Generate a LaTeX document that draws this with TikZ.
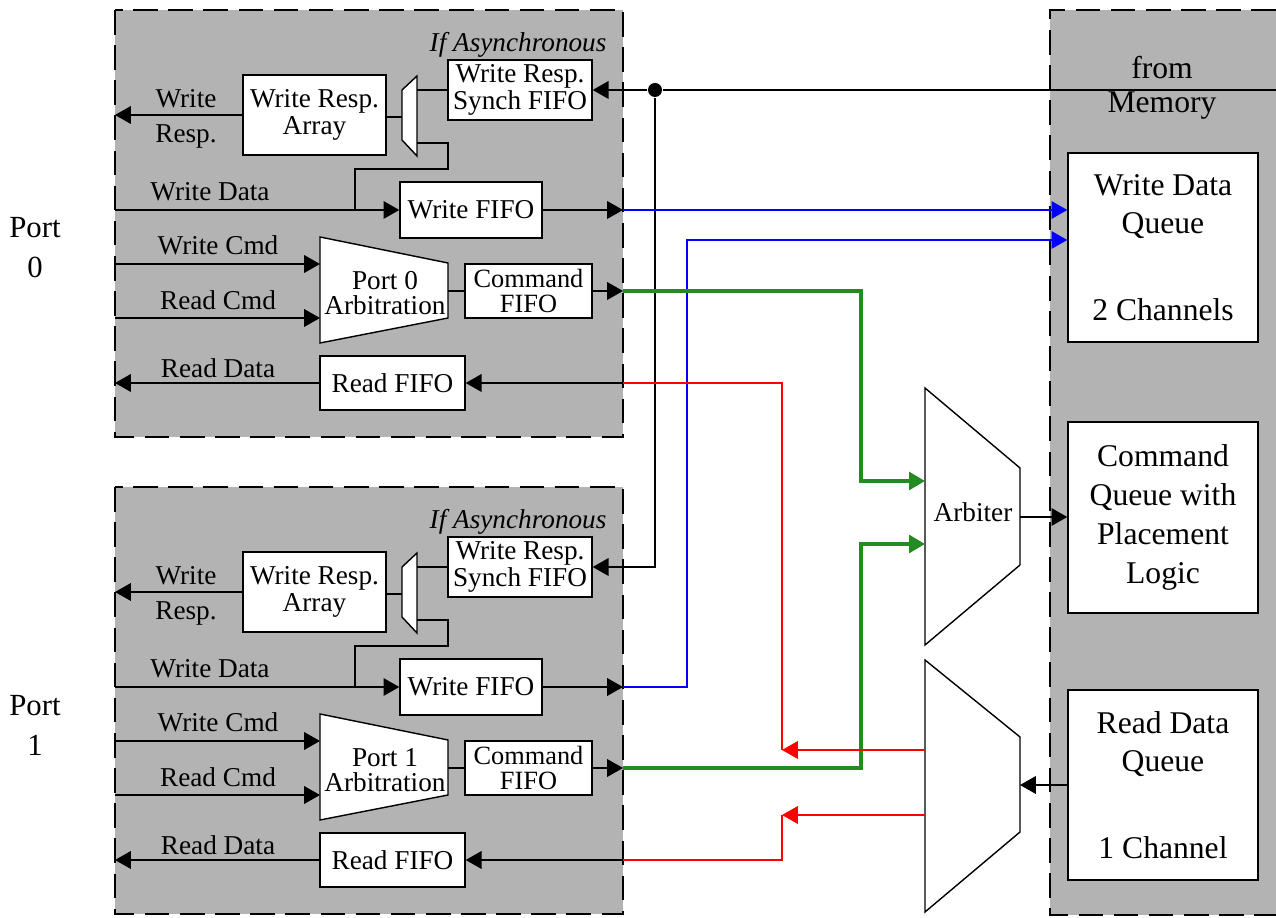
\documentclass[tikz,border=0pt]{standalone}
\usepackage{fontspec}
\setmainfont{Liberation Serif}
\usetikzlibrary{arrows.meta,calc}
\definecolor{busgreen}{RGB}{34,139,34}
\definecolor{blkgray}{RGB}{179,179,179}

\begin{document}
\begin{tikzpicture}[x=0.02cm,y=-0.02cm,line width=0.8pt,
      font=\fontsize{15.5}{14}\selectfont,
      box/.style={draw,fill=white,align=center,inner sep=1pt},
      qbox/.style={draw,fill=white,align=center,minimum width=3.8cm,minimum height=3.8cm,font=\fontsize{18}{21.6}\selectfont},
      blk/.style={fill=blkgray},
      blkedge/.style={dash pattern=on 14pt off 6pt},
      a/.style={-{Triangle[length=9pt,width=10pt]}},
      wbus/.style={a,blue},
      gbus/.style={a,busgreen,line width=2pt},
      rbus/.style={red}]
      \useasboundingbox (0,0) rectangle (1276,918);
      % memory side
      \fill[blk] (1050,10) rectangle (1276,915);
      \draw[blkedge] (1276,10) -- (1050,10) -- (1050,915) -- (1276,915);
      \node[font=\fontsize{18}{21.6}\selectfont] (from) at (1162,68) {from};
      \node[font=\fontsize{18}{21.6}\selectfont] (mem) at (1162,106) {Memory};
      \node[qbox,minimum height=3.78cm] (wdq) at (1163,247.5) {Write Data\\Queue\\[28pt]2 Channels};
      \node[qbox,minimum height=3.82cm] (cq) at (1163,517.5) {Command\\[0.6pt]Queue with\\[0.6pt]Placement\\[0.6pt]Logic};
      \node[qbox] (rdq) at (1163,785) {Read Data\\Queue\\[28pt]1 Channel};
      % the two ports
      \foreach \p/\dy in {0/0,1/477}{
        \begin{scope}[shift={(0,\dy)}]
          \fill[blk] (115,10) rectangle (623,437);
          \draw[blkedge] (115,10) rectangle (623,437);
          \coordinate (edgeL\p) at (115,0);
          \node[font=\fontsize{17.5}{22.8}\selectfont,align=center] (port\p) at (35,248) {Port\\\p};
          \node[anchor=east,font=\fontsize{15.5}{14}\selectfont\itshape] (async\p) at (613,45) {If Asynchronous};
          \node[box,minimum width=2.88cm,minimum height=1.2cm] (wsync\p) at (520,90) {Write Resp.\\Synch FIFO};
          \node[box,minimum width=2.86cm,minimum height=1.6cm,font=\fontsize{15.5}{15}\selectfont] (wra\p) at (314.5,115) {Write Resp.\\Array};
          \node[box,minimum width=2.84cm,minimum height=1.12cm] (wfifo\p) at (471,210) {Write FIFO};
          \node[box,minimum width=2.54cm,minimum height=1.08cm,font=\fontsize{15}{14.5}\selectfont] (cfifo\p) at (528.5,291) {Command\\FIFO};
          \node[box,minimum width=2.9cm,minimum height=1.08cm] (rfifo\p) at (392.5,383) {Read FIFO};
          % write response mux
          \draw[fill=white] (402,90) -- (417,76) -- (417,156) -- (402,140) -- cycle;
          \coordinate (mxa\p) at (417,90);
          \coordinate (mxb\p) at (417,143);
          \coordinate (mxo\p) at (402,117);
          % port arbitration
          \draw[fill=white] (320,237) -- (448,263) -- (448,318) -- (320,343) -- cycle;
          \node[align=center,font=\fontsize{15.5}{14}\selectfont] (parb\p) at (385,293) {Port \p\\Arbitration};
          \coordinate (wcin\p) at (320,264);
          \coordinate (rcin\p) at (320,318);
          \coordinate (paout\p) at (448,291);
          % labels
          \node (lwr\p) at (186,99) {Write};
          \node (lrs\p) at (186,136) {Resp.};
          \node (lwd\p) at (210,192) {Write Data};
          \node (lwc\p) at (218,245) {Write Cmd};
          \node (lrc\p) at (218,300) {Read Cmd};
          \node (lrd\p) at (218,368) {Read Data};
          % connections
          \coordinate (wdin\p) at (115,210);
          \coordinate (wdtap\p) at (355,210);
          \coordinate (wdbend\p) at (448,169);
          \coordinate (wdout\p) at (623,210);
          \coordinate (cmdout\p) at (623,291);
          \coordinate (rdin\p) at (623,383);
          \draw (wsync\p.west) -- (mxa\p);
          \draw (mxo\p) -- (mxo\p -| wra\p.east);
          \draw[a] (wra\p.west) -- (wra\p.west -| edgeL\p);
          \draw[a] (wdin\p) -- (wfifo\p.west);
          \draw (wdtap\p) |- (wdbend\p) |- (mxb\p);
          \draw[a] (wfifo\p.east) -- (wdout\p);
          \draw[a] (wcin\p -| edgeL\p) -- (wcin\p);
          \draw[a] (rcin\p -| edgeL\p) -- (rcin\p);
          \draw (paout\p) -- (cfifo\p.west);
          \draw[a] (cfifo\p.east) -- (cmdout\p);
          \draw[a] (rdin\p) -- (rfifo\p.east);
          \draw[a] (rfifo\p.west) -- (rfifo\p.west -| edgeL\p);
        \end{scope}}
      % write response from memory
      \node[circle,fill,inner sep=0,minimum size=0.28cm] (jn) at (655,90) {};
      \coordinate (memin) at (1276,90);
      \draw (memin) -- (jn);
      \draw[a] (jn) -- (wsync0.east);
      \draw[a] (jn) |- (wsync1.east);
      % arbiter
      \draw[fill=white] (925,388) -- (1020,468) -- (1020,565) -- (925,645) -- cycle;
      \node (arb) at (973,512) {Arbiter};
      \coordinate (arbin0) at (925,481);
      \coordinate (arbin1) at (925,544);
      \coordinate (arbout) at (1020,517);
      \draw[a] (arbout) -- (arbout -| cq.west);
      % read data mux
      \draw[fill=white] (925,660) -- (1020,737) -- (1020,832) -- (925,912) -- cycle;
      \coordinate (rdmo0) at (925,750);
      \coordinate (rdmo1) at (925,815);
      \coordinate (rdmi) at (1020,785);
      \draw[a] (rdq.west) -- (rdmi);
      % buses
      \coordinate (bx) at (687,240);
      \coordinate (gx) at (861,0);
      \coordinate (rx) at (782,0);
      \draw[wbus] (wdout0) -- (wdout0 -| wdq.west);
      \draw[wbus] (wdout1) -| (bx) -- (bx -| wdq.west);
      \draw[gbus] (cmdout0) -| (gx |- arbin0) -- (arbin0);
      \draw[gbus] (cmdout1) -| (gx |- arbin1) -- (arbin1);
      \draw[rbus,a] (rdmo0) -- (rdmo0 -| rx);
      \draw[rbus] (rdmo0 -| rx) |- (rdin0);
      \draw[rbus,a] (rdmo1) -- (rdmo1 -| rx);
      \draw[rbus] (rdmo1 -| rx) |- (rdin1);
\end{tikzpicture}
\end{document}
